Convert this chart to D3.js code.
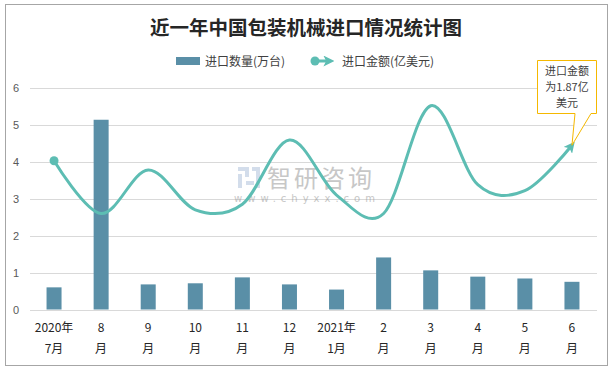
<!DOCTYPE html>
<html>
<head>
<meta charset="utf-8">
<script src="https://cdn.jsdelivr.net/npm/d3@7"></script>
<style>
  body { margin: 0; background: #fff; }
  svg { display: block; }
</style>
</head>
<body>
<div id="chart"></div>
<script>
// 近一年中国包装机械进口情况
var width = 612;
var height = 370;

var months = ['2020-07', '2020-08', '2020-09', '2020-10', '2020-11', '2020-12',
              '2021-01', '2021-02', '2021-03', '2021-04', '2021-05', '2021-06'];
var labelTop = ['2020年', '8', '9', '10', '11', '12', '2021年', '2', '3', '4', '5', '6'];
var labelBottom = ['7月', '月', '月', '月', '月', '月', '1月', '月', '月', '月', '月', '月'];
var quantity = [0.60, 5.14, 0.68, 0.71, 0.87, 0.68, 0.54, 1.41, 1.06, 0.89, 0.84, 0.75]; // 万台
var amount = [4.03, 2.60, 3.78, 2.70, 2.85, 4.59, 3.10, 2.60, 5.52, 3.38, 3.22, 4.45];  // 亿美元
var yTicks = [0, 1, 2, 3, 4, 5, 6];

var barColor = '#5a8fa7';
var lineColor = '#5dbdb3';
var sans = '"Noto Sans CJK SC", "Noto Sans", sans-serif';

var x = d3.scaleBand().domain(months).range([30.5, 595.5]);
var y = d3.scaleLinear().domain([0, 6]).range([309.5, 88]);
var barW = 15;

var svg = d3.select('#chart').append('svg')
  .attr('width', width)
  .attr('height', height);

// 外框
svg.append('rect')
  .attr('x', 5.5).attr('y', 4.5)
  .attr('width', 602).attr('height', 361)
  .attr('fill', '#fff')
  .attr('stroke', '#a6a6a6');

svg.append('text')
  .attr('x', 306)
  .attr('y', 35)
  .attr('text-anchor', 'middle')
  .attr('font-family', sans)
  .attr('font-weight', 'bold')
  .attr('font-size', '19.5px')
  .attr('fill', '#262626')
  .text('近一年中国包装机械进口情况统计图');

// 网格线
svg.append('g').selectAll('line')
  .data(yTicks)
  .enter().append('line')
    .attr('x1', 30).attr('x2', 597)
    .attr('y1', d => Math.round(y(d)) + 0.5)
    .attr('y2', d => Math.round(y(d)) + 0.5)
    .attr('stroke', '#d9d9d9')
    .attr('stroke-width', 1);

svg.append('g').selectAll('text')
  .data(yTicks)
  .enter().append('text')
    .attr('x', 16)
    .attr('y', d => y(d) + 4)
    .attr('text-anchor', 'middle')
    .attr('font-family', '"Liberation Sans", sans-serif')
    .attr('font-size', '11px')
    .attr('fill', '#595959')
    .text(d => d);

// 水印
var wm = svg.append('g').attr('opacity', 0.5);
var icon = wm.append('g').attr('fill', '#a9bcd9');
icon.append('rect').attr('x', 238).attr('y', 167).attr('width', 11).attr('height', 4);
icon.append('rect').attr('x', 245).attr('y', 167).attr('width', 4).attr('height', 10);
icon.append('rect').attr('x', 238).attr('y', 174).attr('width', 4).attr('height', 14);
icon.append('rect').attr('x', 252).attr('y', 167).attr('width', 8).attr('height', 4);
icon.append('rect').attr('x', 256).attr('y', 171).attr('width', 4).attr('height', 17);
icon.append('rect').attr('x', 246).attr('y', 181).attr('width', 8).attr('height', 4);
wm.append('text')
  .attr('x', 321).attr('y', 187)
  .attr('text-anchor', 'middle')
  .attr('font-family', sans)
  .attr('font-size', '24px')
  .attr('fill', '#909090')
  .attr('letter-spacing', '3px')
  .text('智研咨询');
wm.append('text')
  .attr('x', 307).attr('y', 202)
  .attr('text-anchor', 'middle')
  .attr('font-family', '"DejaVu Sans", sans-serif')
  .attr('font-size', '10px')
  .attr('fill', '#909090')
  .attr('letter-spacing', '5px')
  .text('www.chyxx.com');

// 柱子
svg.append('g').selectAll('rect')
  .data(quantity)
  .enter().append('rect')
    .attr('x', (d, i) => x(months[i]) + x.bandwidth() / 2 - barW / 2)
    .attr('y', d => y(d))
    .attr('width', barW)
    .attr('height', d => y(0) - y(d))
    .attr('fill', barColor);

// 箭头
var defs = svg.append('defs');
defs.append('marker')
  .attr('id', 'arrow')
  .attr('markerUnits', 'userSpaceOnUse')
  .attr('viewBox', '0 0 10 10')
  .attr('refX', 6).attr('refY', 5)
  .attr('markerWidth', 11).attr('markerHeight', 11)
  .attr('orient', 'auto')
  .append('path')
    .attr('d', 'M0,0L10,5L0,10L2.5,5Z')
    .attr('fill', lineColor);

var line = d3.line()
  .x((d, i) => x(months[i]) + x.bandwidth() / 2)
  .y(d => y(d))
  .curve(d3.curveCardinal.tension(0));

svg.append('path')
  .datum(amount)
  .attr('d', line)
  .attr('fill', 'none')
  .attr('stroke', lineColor)
  .attr('stroke-width', 3)
  .attr('marker-end', 'url(#arrow)');

svg.append('circle')
  .attr('cx', x(months[0]) + x.bandwidth() / 2)
  .attr('cy', y(amount[0]))
  .attr('r', 4.5)
  .attr('fill', lineColor);

// X 轴标签
var xl = svg.append('g').selectAll('text')
  .data(months)
  .enter().append('text')
    .attr('text-anchor', 'middle')
    .attr('font-family', sans)
    .attr('font-size', '12px')
    .attr('fill', '#262626');
xl.append('tspan')
  .attr('x', d => x(d) + x.bandwidth() / 2)
  .attr('y', 332)
  .text((d, i) => labelTop[i]);
xl.append('tspan')
  .attr('x', d => x(d) + x.bandwidth() / 2)
  .attr('y', 353)
  .text((d, i) => labelBottom[i]);

// 图例
var lg = svg.append('g').attr('font-family', sans).attr('font-size', '12px').attr('fill', '#404040');
lg.append('rect').attr('x', 176).attr('y', 57).attr('width', 24).attr('height', 8).attr('fill', barColor);
lg.append('text').attr('x', 205).attr('y', 65.5).text('进口数量(万台)');
lg.append('line')
  .attr('x1', 316).attr('x2', 330).attr('y1', 61).attr('y2', 61)
  .attr('stroke', lineColor).attr('stroke-width', 3)
  .attr('marker-end', 'url(#arrow)');
lg.append('circle').attr('cx', 315).attr('cy', 61).attr('r', 4.5).attr('fill', lineColor);
lg.append('text').attr('x', 342).attr('y', 65.5).text('进口金额(亿美元)');

// 标注
var lastX = x(months[11]) + x.bandwidth() / 2;
var lastY = y(amount[11]);
var note = svg.append('g');
note.append('path')
  .attr('d', `M537.5,60.5H596.5V113.5H591L${lastX},${lastY}L575,113.5H537.5Z`)
  .attr('fill', '#fff')
  .attr('stroke', '#f5b800')
  .attr('stroke-width', 1);
note.append('text')
  .attr('text-anchor', 'middle')
  .attr('font-family', sans)
  .attr('font-size', '11px')
  .attr('fill', '#404040')
  .selectAll('tspan')
  .data(['进口金额', '为1.87亿', '美元'])
  .enter().append('tspan')
    .attr('x', 567)
    .attr('y', (d, i) => 75 + i * 16)
    .text(d => d);
</script>
</body>
</html>
